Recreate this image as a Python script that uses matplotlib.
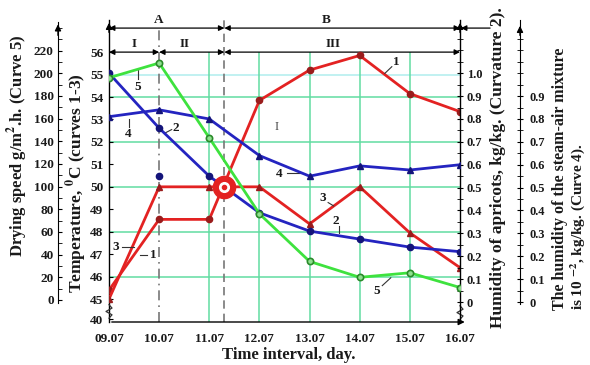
import matplotlib
matplotlib.use('Agg')
import matplotlib.pyplot as plt
from matplotlib.ticker import FixedLocator

plt.rcParams['font.family'] = ['Liberation Serif', 'DejaVu Serif']
plt.rcParams['font.weight'] = 'bold'
plt.rcParams['mathtext.fontset'] = 'stix'

# data
days = [9, 10, 11, 12, 13, 14, 15, 16]
day_labels = ['09.07', '10.07', '11.07', '12.07', '13.07', '14.07', '15.07', '16.07']
temp_1 = [45.4, 48.55, 48.55, 53.85, 55.2, 55.85, 54.15, 53.35]
temp_3 = [45.0, 50.0, 50.0, 50.0, 48.35, 50.0, 47.95, 46.4]
hum_2 = [1.0, 0.76, 0.55, 0.39, 0.31, 0.275, 0.24, 0.22]
hum_4 = [0.81, 0.84, 0.80, 0.64, 0.55, 0.595, 0.577, 0.60]
speed_5 = [196, 209, 143, 76, 34, 20, 24, 11]
stray_day, stray_hum = [10], [0.55]
switch_day, switch_temp = 11.3, 50.0

temp_ticks = [45, 46, 47, 48, 49, 50, 51, 52, 53, 54, 55, 56]
speed_ticks = list(range(0, 221, 20))
hum_ticks = [0, 0.1, 0.2, 0.3, 0.4, 0.5, 0.6, 0.7, 0.8, 0.9, 1.0]
air_ticks = [0, 0.1, 0.2, 0.3, 0.4, 0.5, 0.6, 0.7, 0.8, 0.9]

RED = '#e32222'
DRED = '#9a1c1c'
BLUE = '#2424c0'
NAVY = '#14147a'
GREEN = '#3ee23e'
GRID = '#62dca2'
TXT = '#1a1a1a'

# y mapping (temperature is the base scale)
T_LO, T_HI = 43.98, 57.43

fig = plt.figure(figsize=(5.9, 3.65), dpi=100)
ax = fig.add_axes([109 / 590, 43 / 365, 351 / 590, 302 / 365])
ax.set_xlim(9, 16)
ax.set_ylim(T_LO, T_HI)
for s in ['top', 'right', 'bottom']:
    ax.spines[s].set_visible(False)
ax.spines['left'].set_linewidth(1.0)

# humidity axes (same scale) and drying speed axis
hlo = (T_LO - 44.87) / 10.19
hhi = (T_HI - 44.87) / 10.19
ax2 = ax.twinx()
ax2.set_ylim(hlo, hhi)
ax4 = ax.twinx()
ax4.set_ylim(hlo, hhi)
ax3 = ax.twinx()
ax3.set_ylim((T_LO - 44.96) / 0.0505, (T_HI - 44.96) / 0.0505)

for a in (ax2, ax3, ax4):
    for s in ['top', 'bottom', 'left', 'right']:
        a.spines[s].set_visible(False)

# grid
for t in [46, 48, 50, 52, 54]:
    ax.axhline(t, color=GRID, lw=1.1, zorder=1)
ax.axhline(55, color='#b0eeee', lw=1.1, zorder=1)
ax.vlines([11, 12, 13, 14, 15], T_LO, 56, color=GRID, lw=1.1, zorder=1)
ax.vlines(switch_day, T_LO, T_HI, color='#777777', lw=1.2, linestyles=(0, (5, 3)), zorder=1)
ax.vlines(10, T_LO, 57.07, color='#777777', lw=1.2, linestyles=(0, (6, 3, 1, 3)), zorder=1)

# axes ticks
ax.set_xticks(days)
ax.set_xticklabels(day_labels, fontsize=9.5, color=TXT)
ax.tick_params(axis='x', length=0, pad=8)
ax.set_yticks(temp_ticks + [44.11])
ax.set_yticklabels([str(t) for t in temp_ticks] + ['40'], fontsize=9.5, color=TXT)
ax.tick_params(axis='y', direction='in', length=3, pad=4)

ax2.spines['right'].set_visible(True)
ax2.spines['right'].set_linewidth(1.0)
ax2.yaxis.set_major_locator(FixedLocator(hum_ticks))
ax2.set_yticklabels(['0'] + ['%.1f' % v for v in hum_ticks[1:]], fontsize=9, color=TXT)
ax2.yaxis.set_minor_locator(FixedLocator([i * 0.05 for i in range(0, 25)]))
ax2.tick_params(axis='y', which='both', direction='inout', length=4, pad=3)

ax4.spines['right'].set_visible(True)
ax4.spines['right'].set_position(('axes', (520 - 109) / 351))
ax4.spines['right'].set_bounds(-0.01, hhi)
ax4.yaxis.set_major_locator(FixedLocator(air_ticks))
ax4.set_yticklabels(['0'] + ['%.1f' % v for v in air_ticks[1:]], fontsize=9, color=TXT)
ax4.yaxis.set_minor_locator(FixedLocator([i * 0.05 for i in range(0, 24)]))
ax4.tick_params(axis='y', which='both', direction='inout', length=4, pad=5)

ax3.spines['left'].set_visible(True)
ax3.spines['left'].set_position(('axes', (58 - 109) / 351))
ax3.spines['left'].set_bounds(-3, 245)
ax3.yaxis.set_ticks_position('left')
ax3.yaxis.set_label_position('left')
ax3.yaxis.set_major_locator(FixedLocator(speed_ticks))
ax3.set_yticklabels([str(v) for v in speed_ticks], fontsize=9.5, color=TXT)
ax3.yaxis.set_minor_locator(FixedLocator(list(range(0, 241, 10))))
ax3.tick_params(axis='y', which='both', direction='in', length=3, pad=3)

# axis arrows
arr = dict(arrowstyle='-|>', color='black', lw=1.0, mutation_scale=9)
ax.annotate('', xy=(0, 1.0), xytext=(0, 0.95), xycoords='axes fraction', arrowprops=arr)
ax.annotate('', xy=(1, 1.0), xytext=(1, 0.95), xycoords='axes fraction', arrowprops=arr)
ax.annotate('', xy=((520 - 109) / 351, 0.99), xytext=((520 - 109) / 351, 0.94),
            xycoords='axes fraction', arrowprops=arr)
ax.annotate('', xy=((58 - 109) / 351, 0.995), xytext=((58 - 109) / 351, 0.94),
            xycoords='axes fraction', arrowprops=arr)
ax.annotate('', xy=(16.15, T_LO), xytext=(9, T_LO), xycoords='data',
            arrowprops=dict(arrowstyle='-|>', color='black', lw=1.0, mutation_scale=9),
            annotation_clip=False)

# axis break marks
for xb, yb in [(9, 44.45), (16, 44.4)]:
    zx = [xb, xb + 0.06, xb - 0.06, xb + 0.06, xb]
    zy = [yb - 0.3, yb - 0.15, yb, yb + 0.15, yb + 0.3]
    ax.plot(zx, zy, color='#333333', lw=0.9, clip_on=False, zorder=4)

# region arrows
dbl = dict(arrowstyle='<|-|>', color='black', lw=0.9, mutation_scale=8, shrinkA=0, shrinkB=0)
for (x0, x1, y) in [(9, switch_day, 57.07), (switch_day, 16, 57.07),
                    (9, 10, 56), (10, switch_day, 56), (switch_day, 16, 56)]:
    ax.annotate('', xy=(x1, y), xytext=(x0, y), arrowprops=dbl, annotation_clip=False)
ax.annotate('', xy=(16.02, 57.07), xytext=(16.6, 57.07),
            arrowprops=dict(arrowstyle='-|>', color='black', lw=0.9, mutation_scale=8,
                            shrinkA=0, shrinkB=0), annotation_clip=False)
ax.plot([16, 16.03], [57.0, 57.14], color='black', lw=0.8, clip_on=False)
for x, y, s in [(10.0, 57.45, 'A'), (13.33, 57.45, 'B'), (9.5, 56.38, 'I'),
                (10.5, 56.38, 'II'), (13.47, 56.38, 'III')]:
    ax.text(x, y, s, ha='center', va='center', fontsize=9.5, color=TXT)

# curves
ax.plot(days, temp_1, color=RED, lw=2, zorder=5, marker='o', ms=4.5,
        mfc=DRED, mec=DRED)
ax.plot(days, temp_3, color=RED, lw=2, zorder=5, marker='^', ms=5,
        mfc=DRED, mec=DRED)
ax4.plot(days, hum_4, color=BLUE, lw=2, zorder=5, marker='^', ms=5,
         mfc=NAVY, mec=NAVY)
ax2.plot(days, hum_2, color=BLUE, lw=2, zorder=5, marker='o', ms=4.5,
         mfc=NAVY, mec=NAVY)
ax2.plot(stray_day, stray_hum, ls='none', marker='o', ms=4.5, mfc=NAVY, mec=NAVY, zorder=5)
ax3.plot(days, speed_5, color=GREEN, lw=2, zorder=5, marker='o', ms=4.5,
         mfc='#8ee08e', mec='#2a8a2a', mew=1.2)

sw = (switch_temp - 44.96) / 0.0505
ax3.plot([switch_day], [sw], marker='o', ms=16, color=RED, zorder=8, ls='none')
ax3.plot([switch_day], [sw], marker='o', ms=7, mfc='white', mec='white', zorder=9, ls='none')
ax3.plot([switch_day], [sw], marker='o', ms=3, color=RED, zorder=10, ls='none')

# curve numbers with leader lines
labels = [
    ('1', 14.72, 55.55, (14.64, 55.35), (14.50, 55.05)),
    ('2', 10.33, 52.62, (10.25, 52.55), (10.12, 52.40)),
    ('2', 13.52, 48.50, (13.58, 48.25), (13.58, 47.95)),
    ('3', 13.27, 49.50, (13.37, 49.30), (13.48, 49.15)),
    ('3', 9.14, 47.30, (9.26, 47.30), (9.50, 47.30)),
    ('1', 9.88, 46.95, (9.62, 46.95), (9.76, 46.95)),
    ('4', 9.38, 52.35, (9.40, 53.0), (9.40, 52.65)),
    ('4', 12.40, 50.55, (12.55, 50.60), (12.85, 50.60)),
    ('5', 9.58, 54.45, (9.58, 55.2), (9.58, 54.8)),
    ('5', 14.33, 45.35, (14.45, 45.6), (14.62, 45.95)),
]
for s, x, y, p0, p1 in labels:
    ax.text(x, y, s, ha='center', va='center', fontsize=9.5, color=TXT, zorder=6)
    ax.plot([p0[0], p1[0]], [p0[1], p1[1]], color='#333333', lw=0.8, zorder=6)
ax.text(12.35, 52.66, 'I', ha='center', va='center', fontsize=9, color='#444444',
        fontweight='normal')

# axis titles
fig.text(18 / 590, 1 - 146 / 365, r'Drying speed g/m$^{\mathbf{2}}$.h. (Curve 5)',
         rotation=90, ha='center', va='center', fontsize=12, color=TXT)
fig.text(77 / 590, 1 - 183 / 365, r'Temperature, $^{\mathbf{0}}$C (curves 1-3)',
         rotation=90, ha='center', va='center', fontsize=12.5, color=TXT)
fig.text(498 / 590, 1 - 168 / 365, 'Humidity of apricots, kg/kg. (Curvature 2).',
         rotation=90, ha='center', va='center', fontsize=12.5, color=TXT)
fig.text(560 / 590, 1 - 310 / 365, 'The humidity of the steam-air mixture',
         rotation=90, ha='center', va='bottom', fontsize=11.5, color=TXT)
fig.text(578 / 590, 1 - 310 / 365, r'is 10 $^{\mathbf{-2}}$, kg/kg. (Curve 4).',
         rotation=90, ha='center', va='bottom', fontsize=11, color=TXT)
fig.text(289 / 590, 1 - 355 / 365, 'Time interval, day.', ha='center', va='center',
         fontsize=12, color=TXT)

fig.savefig('out.png', dpi=100)
